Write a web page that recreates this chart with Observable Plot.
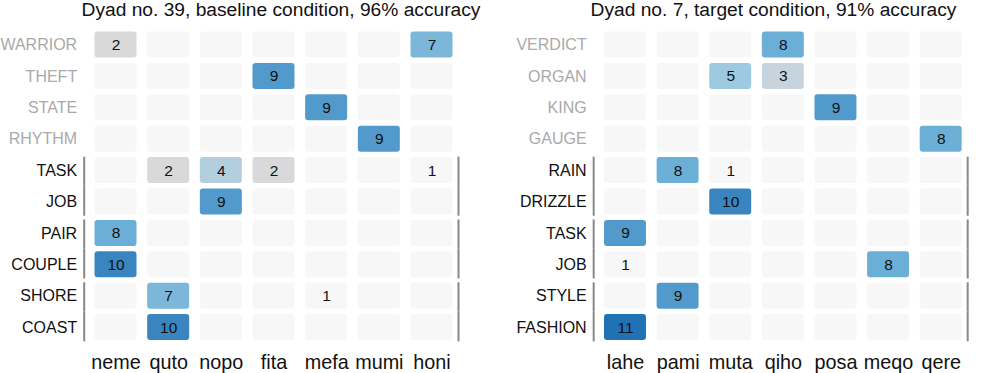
<!DOCTYPE html>
<html>
<head>
<meta charset="utf-8">
<script src="https://cdn.jsdelivr.net/npm/d3@7"></script>
<script src="https://cdn.jsdelivr.net/npm/@observablehq/plot@0.6"></script>
<style>
  body { margin: 0; background: #fff; font-family: "Liberation Sans", Arial, sans-serif; }
  #wrap { position: relative; width: 983px; height: 373px; overflow: hidden; }
  .panel { position: absolute; top: 0; }
  .title { height: 22px; font-size: 19.2px; line-height: 20px; color: #111; text-align: center; white-space: nowrap; }
  svg { display: block; }
</style>
</head>
<body>
<div id="wrap">
  <div class="panel" id="p1" style="left:0;width:490px"></div>
  <div class="panel" id="p2" style="left:490px;width:493px"></div>
</div>
<script>
// ---- Panel 1 data ----
const title1 = "Dyad no. 39, baseline condition, 96% accuracy";
const cols1 = ["neme", "quto", "nopo", "fita", "mefa", "mumi", "honi"];
const rows1 = ["WARRIOR", "THEFT", "STATE", "RHYTHM", "TASK", "JOB", "PAIR", "COUPLE", "SHORE", "COAST"];
const fillers1 = ["WARRIOR", "THEFT", "STATE", "RHYTHM"];
const pairTop1 = ["TASK", "PAIR", "SHORE"];
const pairBottom1 = ["JOB", "COUPLE", "COAST"];
const counts1 = [
  [2, 0, 0, 0, 0, 0, 7],
  [0, 0, 0, 9, 0, 0, 0],
  [0, 0, 0, 0, 9, 0, 0],
  [0, 0, 0, 0, 0, 9, 0],
  [0, 2, 4, 2, 0, 0, 1],
  [0, 0, 9, 0, 0, 0, 0],
  [8, 0, 0, 0, 0, 0, 0],
  [10, 0, 0, 0, 0, 0, 0],
  [0, 7, 0, 0, 1, 0, 0],
  [0, 10, 0, 0, 0, 0, 0]
];

// ---- Panel 2 data ----
const title2 = "Dyad no. 7, target condition, 91% accuracy";
const cols2 = ["lahe", "pami", "muta", "qiho", "posa", "meqo", "qere"];
const rows2 = ["VERDICT", "ORGAN", "KING", "GAUGE", "RAIN", "DRIZZLE", "TASK", "JOB", "STYLE", "FASHION"];
const fillers2 = ["VERDICT", "ORGAN", "KING", "GAUGE"];
const pairTop2 = ["RAIN", "TASK", "STYLE"];
const pairBottom2 = ["DRIZZLE", "JOB", "FASHION"];
const counts2 = [
  [0, 0, 0, 8, 0, 0, 0],
  [0, 0, 5, 3, 0, 0, 0],
  [0, 0, 0, 0, 9, 0, 0],
  [0, 0, 0, 0, 0, 0, 8],
  [0, 8, 1, 0, 0, 0, 0],
  [0, 0, 10, 0, 0, 0, 0],
  [9, 0, 0, 0, 0, 0, 0],
  [1, 0, 0, 0, 0, 8, 0],
  [0, 9, 0, 0, 0, 0, 0],
  [11, 0, 0, 0, 0, 0, 0]
];

// colour ramp (count -> fill)
const colorDomain = [0, 1, 2, 3, 5, 8, 11];
const colorRange = ["#f7f7f7", "#f7f7f7", "#d9d9d9", "#c7d4dd", "#9ecae1", "#6baed6", "#2171b5"];

const FONT = '"Liberation Sans", Arial, sans-serif';
const TITLE_H = 22;

function panel(el, title, cols, rows, fillers, pairTop, pairBottom, counts, m) {
  const cells = [];
  rows.forEach((r, i) => cols.forEach((c, j) => cells.push({row: r, col: c, n: counts[i][j]})));
  const t = document.createElement("div");
  t.className = "title";
  t.style.paddingLeft = m.titlePad + "px";
  t.textContent = title;
  el.appendChild(t);
  const H = 373 - TITLE_H;
  const plot = Plot.plot({
    width: m.width,
    height: H,
    marginTop: 28.8 - TITLE_H,
    marginBottom: H - (342.8 - TITLE_H),
    marginLeft: m.left,
    marginRight: m.right,
    style: {fontFamily: FONT, background: "#fff"},
    x: {type: "band", domain: cols, padding: 0, round: false, axis: null},
    y: {type: "band", domain: rows, padding: 0, round: false, axis: null},
    color: {type: "linear", domain: colorDomain, range: colorRange, interpolate: "rgb"},
    marks: [
      Plot.cell(cells, {x: "col", y: "row", fill: "n", rx: 3,
        insetLeft: 5.33, insetRight: 5.33, insetTop: 2.7, insetBottom: 2.7}),
      Plot.text(cells.filter(d => d.n > 0), {x: "col", y: "row", text: d => String(d.n),
        fill: "#111", fontSize: 15.5}),
      Plot.text(fillers, {y: d => d, text: d => d, frameAnchor: "left", textAnchor: "end",
        dx: -12.5, fill: "#a9a9a9", fontSize: 16}),
      Plot.text(rows.filter(r => !fillers.includes(r)), {y: d => d, text: d => d, frameAnchor: "left",
        textAnchor: "end", dx: -12.5, fill: "#111", fontSize: 16}),
      Plot.text(cols, {x: d => d, text: d => d, frameAnchor: "bottom", lineAnchor: "middle",
        dy: 19.5, fill: "#111", fontSize: 19.8}),
      Plot.tickX(pairTop, {x: () => cols[0], y: d => d, dx: -31.8, stroke: "#888", strokeWidth: 2, insetTop: 2.3}),
      Plot.tickX(pairBottom, {x: () => cols[0], y: d => d, dx: -31.8, stroke: "#888", strokeWidth: 2, insetBottom: 1.5}),
      Plot.tickX(pairTop, {x: () => cols[cols.length - 1], y: d => d, dx: 26.5, stroke: "#888", strokeWidth: 2, insetTop: 2.3}),
      Plot.tickX(pairBottom, {x: () => cols[cols.length - 1], y: d => d, dx: 26.5, stroke: "#888", strokeWidth: 2, insetBottom: 1.5})
    ]
  });
  el.appendChild(plot);
}

panel(document.getElementById("p1"), title1, cols1, rows1, fillers1, pairTop1, pairBottom1, counts1,
  {width: 490, left: 89.17, right: 32.17, titlePad: 72});
panel(document.getElementById("p2"), title2, cols2, rows2, fillers2, pairTop2, pairBottom2, counts2,
  {width: 493, left: 108.67, right: 16, titlePad: 74});
</script>
</body>
</html>
